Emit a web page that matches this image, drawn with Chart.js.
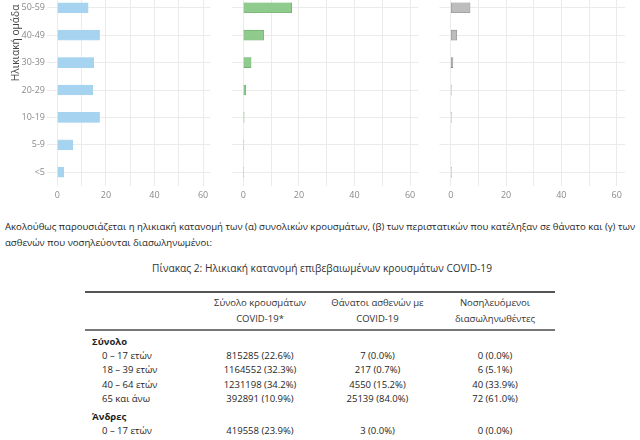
<!DOCTYPE html>
<html lang="el">
<head>
<meta charset="utf-8">
<script src="https://cdn.jsdelivr.net/npm/chart.js@4"></script>
<style>
  body { margin: 0; width: 640px; height: 440px; overflow: hidden; background: #fff; position: relative; font-family: "Open Sans", sans-serif; color: #1e1e1e; }
  canvas { position: absolute; top: -6px; }
  #intro { position: absolute; left: 5px; top: 219px; font-size: 9.6px; line-height: 16px; white-space: nowrap; }
  #caption { position: absolute; left: 0; width: 640px; top: 261px; text-align: center; font-size: 10.2px; color: #333; padding-left: 2px; }
  #tbl { position: absolute; left: 85px; top: 291px; border-collapse: collapse; font-size: 9.5px; color: #1e1e1e; }
  #tbl th { font-weight: normal; line-height: 16px; padding: 2px 0; text-align: center; color: #333; }
  #tbl thead tr { border-top: 2px solid #555; border-bottom: 2px solid #777; }
  #tbl td { line-height: 14.2px; padding: 0; text-align: center; }
  #tbl td.lbl { text-align: left; padding-left: 17px; }
  #tbl td.grp { text-align: left; padding-left: 7px; font-weight: bold; }
  #tbl tr.first td { padding-top: 4px; }
  #tbl tr.gap td { padding-top: 4px; }
</style>
</head>
<body>
<canvas id="c1" width="216" height="208" style="left:0px"></canvas>
<canvas id="c2" width="210" height="208" style="left:216px"></canvas>
<canvas id="c3" width="214" height="208" style="left:426px"></canvas>
<div id="intro"></div>
<div id="caption"></div>
<table id="tbl"></table>
<script>
// ηλικιακές ομάδες (πάνω προς κάτω) και ποσοστά (%)
const ageGroups = ["50-59", "40-49", "30-39", "20-29", "10-19", "5-9", "<5"];
const casesPct = [12.7, 17.4, 15.0, 14.6, 17.4, 6.4, 2.7];
const deathsPct = [17.4, 7.3, 2.8, 0.9, 0.3, 0.15, 0.15];
const icuPct = [7.0, 2.2, 0.8, 0.25, 0.25, 0, 0.25];
const xTicks = [0, 10, 20, 30, 40, 50, 60];

const introLines = [
  "Ακολούθως παρουσιάζεται η ηλικιακή κατανομή των (α) συνολικών κρουσμάτων, (β) των περιστατικών που κατέληξαν σε θάνατο και (γ) των",
  "ασθενών που νοσηλεύονται διασωληνωμένοι:"
];
const caption = "Πίνακας 2: Ηλικιακή κατανομή επιβεβαιωμένων κρουσμάτων COVID-19";
const colHeaders = [["Σύνολο κρουσμάτων", "COVID-19*"], ["Θάνατοι ασθενών με", "COVID-19"], ["Νοσηλευόμενοι", "διασωληνωθέντες"]];
const rowLabels = ["0 – 17 ετών", "18 – 39 ετών", "40 – 64 ετών", "65 και άνω"];
const totalCases = [815285, 1164552, 1231198, 392891];
const totalCasesPct = [22.6, 32.3, 34.2, 10.9];
const totalDeaths = [7, 217, 4550, 25139];
const totalDeathsPct = [0.0, 0.7, 15.2, 84.0];
const totalIcu = [0, 6, 40, 72];
const totalIcuPct = [0.0, 5.1, 33.9, 61.0];
const menCases = [419558];
const menCasesPct = [23.9];
const menDeaths = [3];
const menDeathsPct = [0.0];
const menIcu = [0];
const menIcuPct = [0.0];

const GRID = "#ebebeb";
const TICK = "#8a8a8a";

function noPad(s) {
  s.paddingTop = 0; s.paddingBottom = 0; s.paddingLeft = 0; s.paddingRight = 0;
}

function makeBars(id, values, fill, edge, o) {
  return new Chart(document.getElementById(id), {
    type: "bar",
    data: {
      labels: ageGroups,
      datasets: [{ data: values, backgroundColor: fill, borderColor: edge, borderWidth: 0.6, borderSkipped: false, barThickness: 10 }]
    },
    options: {
      indexAxis: "y",
      responsive: false,
      animation: false,
      layout: { autoPadding: false, padding: { left: 0, right: o.right, top: 0, bottom: 0 } },
      plugins: { legend: { display: false }, tooltip: { enabled: false } },
      scales: {
        x: {
          type: "linear", min: -3, max: 63,
          afterBuildTicks: s => { s.ticks = xTicks.map(v => ({ value: v })); },
          afterFit: s => { s.height = 16; noPad(s); },
          border: { display: false },
          grid: { color: GRID, drawTicks: false },
          ticks: { color: TICK, font: { size: 9, family: "Open Sans" }, padding: 4, autoSkip: false, maxRotation: 0,
            callback: v => (v % 20 === 0 ? v : "") }
        },
        y: {
          afterFit: s => { s.width = o.axisWidth; noPad(s); },
          border: { display: false },
          grid: { color: GRID, offset: false, tickLength: 3, tickColor: GRID },
          ticks: { display: o.labels, color: TICK, font: { size: 9, family: "Open Sans" }, padding: 2 },
          title: { display: o.labels, text: "Ηλικιακή ομάδα\u00a0\u00a0\u00a0\u00a0", align: "end", color: "#444",
            font: { size: 10.2, family: "Open Sans" }, padding: 10 }
        }
      }
    }
  });
}

makeBars("c1", casesPct, "#a6d3ef", "#a6d3ef", { right: 5.6, axisWidth: 50, labels: true });
makeBars("c2", deathsPct, "#8fcb8d", "#6fa86d", { right: 7.6, axisWidth: 19, labels: false });
makeBars("c3", icuPct, "#bdbdbd", "#8c8c8c", { right: 15, axisWidth: 16.4, labels: false });

document.getElementById("intro").innerHTML = introLines.join("<br>");
document.getElementById("caption").textContent = caption;

function cell(n, p) { return n + " (" + p.toFixed(1) + "%)"; }
let html = "<thead><tr><th style='width:115px'></th>";
colHeaders.forEach((h, i) => { html += "<th style='width:" + (i === 1 ? 115 : 120) + "px'>" + h.join("<br>") + "</th>"; });
html += "</tr></thead><tbody>";
html += "<tr class='first'><td class='grp'>Σύνολο</td><td></td><td></td><td></td></tr>";
rowLabels.forEach((r, i) => {
  html += "<tr><td class='lbl'>" + r + "</td><td>" + cell(totalCases[i], totalCasesPct[i]) + "</td><td>" +
    cell(totalDeaths[i], totalDeathsPct[i]) + "</td><td>" + cell(totalIcu[i], totalIcuPct[i]) + "</td></tr>";
});
html += "<tr class='gap'><td class='grp'>Άνδρες</td><td></td><td></td><td></td></tr>";
menCases.forEach((c, i) => {
  html += "<tr><td class='lbl'>" + rowLabels[i] + "</td><td>" + cell(c, menCasesPct[i]) + "</td><td>" +
    cell(menDeaths[i], menDeathsPct[i]) + "</td><td>" + cell(menIcu[i], menIcuPct[i]) + "</td></tr>";
});
html += "</tbody>";
document.getElementById("tbl").innerHTML = html;
</script>
</body>
</html>
